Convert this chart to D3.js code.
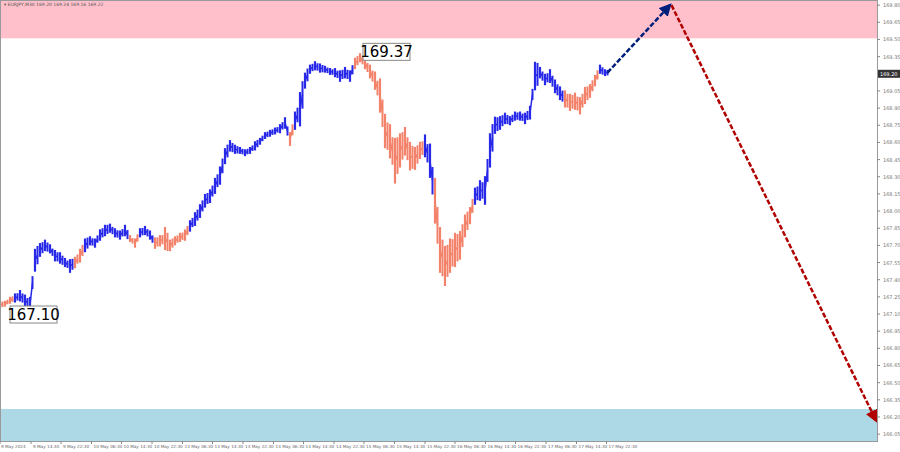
<!DOCTYPE html>
<html><head><meta charset="utf-8">
<script src="https://cdn.jsdelivr.net/npm/d3@7"></script>
<style>body{margin:0;background:#fff}svg{display:block;font-family:"DejaVu Sans",sans-serif}</style>
</head><body><svg id="c" width="900" height="452"></svg>
<script>
// close-ish price per hourly step
const prices=[167.18,167.19,167.22,167.24,167.26,167.22,167.18,167.57,167.66,167.70,167.67,167.61,167.59,167.55,167.52,167.55,167.61,167.70,167.74,167.72,167.79,167.83,167.85,167.81,167.79,167.83,167.76,167.72,167.81,167.83,167.79,167.72,167.74,167.76,167.70,167.74,167.77,167.79,167.87,167.93,168.00,168.09,168.13,168.22,168.31,168.48,168.57,168.54,168.53,168.51,168.53,168.57,168.61,168.66,168.68,168.70,168.72,168.77,168.63,168.79,168.89,169.14,169.24,169.27,169.25,169.24,169.22,169.21,169.18,169.21,169.18,169.29,169.34,169.29,169.22,169.14,169.01,168.70,168.61,168.44,168.53,168.61,168.48,168.46,168.53,168.57,168.44,168.09,167.66,167.52,167.61,167.66,167.70,167.87,167.96,168.13,168.18,168.18,168.53,168.75,168.77,168.81,168.79,168.83,168.83,168.81,168.86,169.18,169.21,169.15,169.18,169.09,169.03,168.98,168.95,168.96,168.92,169.01,169.05,169.14,169.24,169.21];
const spans=[0.06,0.05,0.06,0.08,0.1,0.1,0.14,0.2,0.12,0.1,0.08,0.1,0.1,0.08,0.12,0.1,0.12,0.12,0.08,0.08,0.1,0.1,0.08,0.08,0.08,0.1,0.06,0.08,0.08,0.08,0.08,0.1,0.1,0.2,0.1,0.08,0.08,0.1,0.1,0.12,0.12,0.12,0.12,0.14,0.16,0.14,0.1,0.08,0.06,0.06,0.06,0.08,0.06,0.06,0.06,0.06,0.08,0.1,0.12,0.16,0.3,0.14,0.08,0.08,0.08,0.06,0.06,0.08,0.1,0.1,0.1,0.1,0.08,0.1,0.12,0.16,0.3,0.3,0.3,0.4,0.3,0.25,0.25,0.2,0.15,0.2,0.3,0.4,0.4,0.35,0.3,0.3,0.25,0.2,0.15,0.15,0.18,0.25,0.3,0.15,0.12,0.1,0.08,0.08,0.08,0.1,0.12,0.25,0.1,0.1,0.12,0.12,0.12,0.15,0.15,0.15,0.15,0.15,0.12,0.1,0.08,0.06];
// wave colouring: [startIndex, endIndex, wave]
const waves=[[0,2,"corr"],[3,14,"up"],[15,16,"corr"],[17,25,"up"],[26,27,"corr"],[28,30,"up"],[31,37,"corr"],[38,57,"up"],[58,58,"corr"],[59,70,"up"],[71,84,"corr"],[85,86,"up"],[87,94,"corr"],[95,112,"up"],[113,119,"corr"],[120,121,"up"]];
const yTicks=[169.80,169.65,169.50,169.35,169.05,168.90,168.75,168.60,168.45,168.30,168.15,168.00,167.85,167.70,167.55,167.40,167.25,167.10,166.95,166.80,166.65,166.50,166.35,166.20,166.05];
const xLabels=["9 May 2024","9 May 14:30","9 May 22:30","10 May 06:30","10 May 14:30","10 May 22:30","13 May 06:30","13 May 14:30","13 May 22:30","14 May 06:30","14 May 14:30","14 May 22:30","15 May 06:30","15 May 14:30","15 May 22:30","16 May 06:30","16 May 14:30","16 May 22:30","17 May 06:30","17 May 14:30","17 May 22:30"];
const xLabelIdx=[0,6.2,12.2,18.3,24.3,30.4,36.5,42.5,48.6,54.7,60.7,66.8,72.8,78.9,85,91,97.1,103.1,109.2,115.3,121.3];
const zones=[{from:169.51,to:169.90,color:"#ffc0cb"},{from:165.99,to:166.27,color:"#add8e6"}];
const markers=[{i:2,p:167.10,label:"167.10",dx:0,dy:-8},{i:72.4,p:169.37,label:"169.37",dx:1,dy:-11}];
const arrows=[{from:[121.5,169.21],to:[134,169.80],color:"#001f7a"},{from:[134.3,169.80],to:[175.2,166.17],color:"#b00000"}];
const current=169.20;

const svg=d3.select("#c");
const W=877,H=441;
const x=d3.scaleLinear().domain([0,175.4]).range([0,W]);
const y=d3.scaleLinear().domain([165.99,169.845]).range([H,0]);
svg.append("defs").append("clipPath").attr("id","cp").append("rect").attr("width",W).attr("height",H);
const g=svg.append("g").attr("clip-path","url(#cp)");
zones.forEach(z=>g.append("rect").attr("x",0).attr("width",W).attr("y",y(Math.min(z.to,169.845))).attr("height",y(z.from)-y(Math.min(z.to,169.845))).attr("fill",z.color));
const colorOf=i=>{const w=waves.find(w=>i>=w[0]&&i<=w[1]);return w&&w[2]==="up"?"#2828e8":"#f2826a";};
prices.forEach((p,i)=>{
  const c=colorOf(i);
  const nxt=i<prices.length-1?prices[i+1]:p;
  const mid=(p+nxt)/2;
  g.append("line").attr("x1",x(i)).attr("x2",x(i)).attr("y1",y(p+spans[i]/2)).attr("y2",y(p-spans[i]/2)).attr("stroke",c).attr("stroke-width",2.2);
  g.append("line").attr("x1",x(i+0.5)).attr("x2",x(i+0.5)).attr("y1",y(mid+spans[i]/2.5)).attr("y2",y(mid-spans[i]/2.5)).attr("stroke",c).attr("stroke-width",2);
  g.append("line").attr("x1",x(i)).attr("x2",x(i+0.5)).attr("y1",y(p)).attr("y2",y(mid)).attr("stroke",c).attr("stroke-width",1.5);
});
const defs=svg.select("defs");
arrows.forEach((a,k)=>{
  defs.append("marker").attr("id","m"+k).attr("viewBox","0 0 10 10").attr("refX",8).attr("refY",5).attr("markerWidth",5).attr("markerHeight",5).attr("orient","auto")
   .append("path").attr("d","M0,0L10,5L0,10z").attr("fill",a.color);
  svg.append("line").attr("x1",x(a.from[0])).attr("y1",y(a.from[1])).attr("x2",x(a.to[0])).attr("y2",y(a.to[1]))
   .attr("stroke",a.color).attr("stroke-width",2.5).attr("stroke-dasharray","5,2").attr("marker-end","url(#m"+k+")");
});
markers.forEach(m=>{
  const t=svg.append("g").attr("transform",`translate(${x(m.i)+m.dx},${y(m.p)+m.dy})`);
  t.append("rect").attr("width",47).attr("height",17).attr("fill","#fff").attr("stroke","#888");
  t.append("text").attr("x",23.5).attr("y",14).attr("text-anchor","middle").attr("font-size",15).attr("fill","#000").text(m.label);
});
svg.append("rect").attr("x",0.5).attr("y",0.5).attr("width",W).attr("height",H).attr("fill","none").attr("stroke","#999");
svg.append("text").attr("x",4).attr("y",6).attr("font-size",4.5).attr("fill","#555").text("▾ EURJPY,M30  169.20 169.24 169.16 169.22");
const ya=svg.append("g");
yTicks.forEach(t=>{ya.append("line").attr("x1",W).attr("x2",W+3).attr("y1",y(t)).attr("y2",y(t)).attr("stroke","#888");
 ya.append("text").attr("x",W+6).attr("y",y(t)+2).attr("font-size",5).attr("fill","#777").text(t.toFixed(2));});
ya.append("rect").attr("x",W+1).attr("y",y(current)-4).attr("width",22).attr("height",8).attr("fill","#333");
ya.append("text").attr("x",W+3).attr("y",y(current)+2).attr("font-size",5).attr("fill","#fff").text(current.toFixed(2));
xLabels.forEach((l,k)=>{const px=x(xLabelIdx[k]);
 svg.append("line").attr("x1",px).attr("x2",px).attr("y1",H).attr("y2",H+3).attr("stroke","#888");
 svg.append("text").attr("x",k===0?1:px+2).attr("y",H+7).attr("font-size",4.2).attr("fill","#666").text(l);});
</script></body></html>
